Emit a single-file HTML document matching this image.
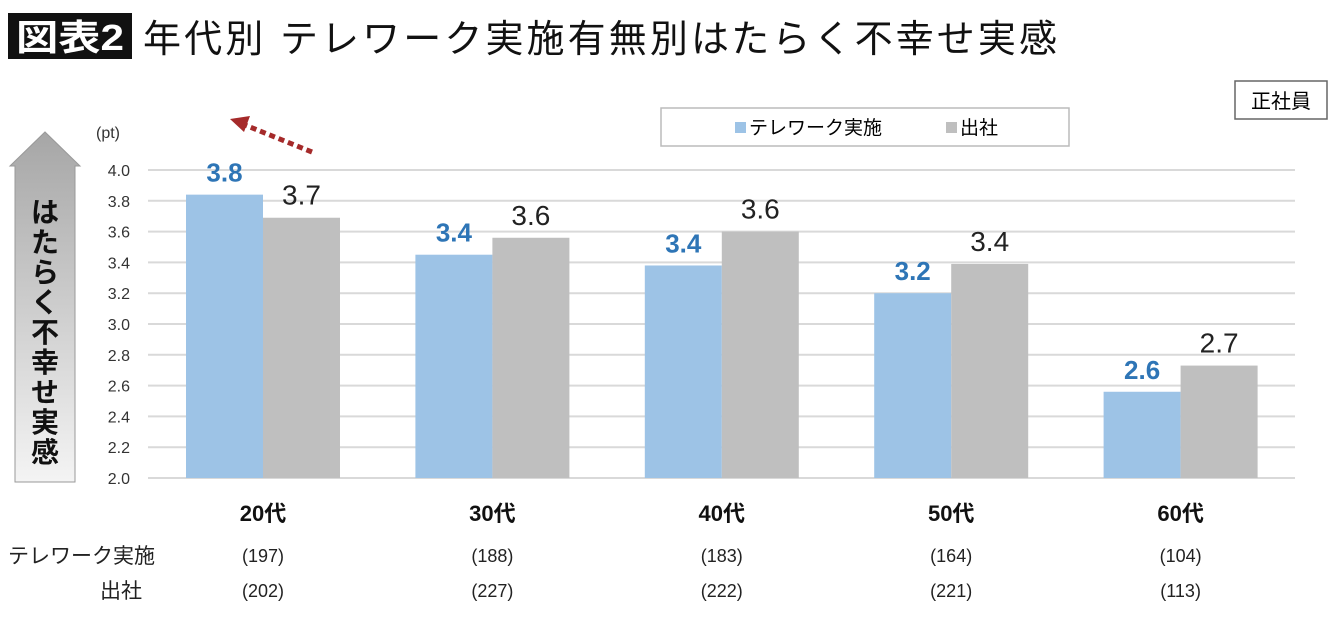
<!DOCTYPE html>
<html><head><meta charset="utf-8"><style>
body{margin:0;width:1340px;height:613px;background:#fff;overflow:hidden;font-family:"Liberation Sans","Noto Sans CJK JP",sans-serif}
</style></head><body>
<svg width="1340" height="613" xmlns="http://www.w3.org/2000/svg" font-family="Liberation Sans, Noto Sans CJK JP, sans-serif">
<defs><linearGradient id="ag" x1="0" y1="0" x2="0" y2="1"><stop offset="0" stop-color="#a6a6a6"/><stop offset="1" stop-color="#f4f4f4"/></linearGradient></defs>
<rect x="8" y="13" width="124" height="46" fill="#111"/>
<text x="70" y="50" font-size="36" font-weight="bold" fill="#fff" text-anchor="middle" textLength="108" lengthAdjust="spacingAndGlyphs">図表2</text>
<text x="143" y="52" font-size="38" fill="#111" textLength="914" lengthAdjust="spacing">年代別 テレワーク実施有無別はたらく不幸せ実感</text>
<rect x="1235" y="81" width="92" height="38" fill="#fff" stroke="#666" stroke-width="1.5"/>
<text x="1281" y="108" font-size="20" text-anchor="middle">正社員</text>
<g>
<rect x="661" y="108" width="408" height="38" fill="#fff" stroke="#bbb" stroke-width="1.5"/>
<rect x="735" y="122" width="11" height="11" fill="#9dc3e6"/>
<text x="749" y="134" font-size="19">テレワーク実施</text>
<rect x="946" y="122" width="11" height="11" fill="#bfbfbf"/>
<text x="960" y="134" font-size="19">出社</text>
</g>
<g>
<path d="M10 166 L45 132 L80 166 L75 166 L75 482 L15 482 L15 166 Z" fill="url(#ag)" stroke="#999" stroke-width="1"/>
<text font-size="28" font-weight="bold" fill="#111" text-anchor="middle">
<tspan x="45" y="222">は</tspan><tspan x="45" y="252">た</tspan><tspan x="45" y="282">ら</tspan><tspan x="45" y="312">く</tspan><tspan x="45" y="342">不</tspan><tspan x="45" y="372">幸</tspan><tspan x="45" y="402">せ</tspan><tspan x="45" y="432">実</tspan><tspan x="45" y="462">感</tspan></text>
</g>
<text x="96" y="138" font-size="16" fill="#333">(pt)</text>
<g>
<line x1="312" y1="152" x2="245" y2="125" stroke="#a52a2a" stroke-width="5" stroke-dasharray="6,4"/>
<path d="M230 119 L250 116 L244 132 Z" fill="#a52a2a"/>
</g>
<g id="chart"></g>
</svg>
<script>
const categories=["20代","30代","40代","50代","60代"];
const teleworkValues=[3.84,3.45,3.38,3.20,2.56];
const officeValues=[3.69,3.56,3.60,3.39,2.73];
const teleworkLabels=["3.8","3.4","3.4","3.2","2.6"];
const officeLabels=["3.7","3.6","3.6","3.4","2.7"];
const teleworkCounts=["(197)","(188)","(183)","(164)","(104)"];
const officeCounts=["(202)","(227)","(222)","(221)","(113)"];
const yTicks=[2.0,2.2,2.4,2.6,2.8,3.0,3.2,3.4,3.6,3.8,4.0];
const NS="http://www.w3.org/2000/svg";
const g=document.getElementById('chart');
const x0=148,x1=1295,yMin=2,yMax=4,py0=478,py1=170;
const y=v=>py0-(v-yMin)/(yMax-yMin)*(py0-py1);
const gw=(x1-x0)/categories.length;
const xg=i=>x0+i*gw;
function el(t,a,txt){const e=document.createElementNS(NS,t);for(const k in a)e.setAttribute(k,a[k]);if(txt!=null)e.textContent=txt;g.appendChild(e);return e;}
yTicks.forEach(v=>{
 const l=el('line',{x1:x0,x2:x1,y1:y(v),y2:y(v),stroke:'#d9d9d9','stroke-width':2});
 
 
 const t=el('text',{x:130,y:y(v)+6,'font-size':16,'text-anchor':'end',fill:'#333'},v.toFixed(1));
 
 
});
const bw=77;
categories.forEach((c,i)=>{
 const bx=xg(i)+38;
 const b1=el('rect',{x:bx,y:y(teleworkValues[i]),width:bw,height:py0-y(teleworkValues[i]),fill:'#9dc3e6'});
 
 
 const b2=el('rect',{x:bx+bw,y:y(officeValues[i]),width:bw,height:py0-y(officeValues[i]),fill:'#bfbfbf'});
 
 
 const l1=el('text',{x:bx+bw/2,y:y(teleworkValues[i])-13,'font-size':26,'font-weight':'bold',fill:'#2e75b6','text-anchor':'middle'},teleworkLabels[i]);
 
 
 const l2=el('text',{x:bx+bw*1.5,y:y(officeValues[i])-13,'font-size':28,fill:'#222','text-anchor':'middle'},officeLabels[i]);
 
 
 const cx=bx+bw;
 const cl=el('text',{x:cx,y:521,'font-size':22,'font-weight':'bold',fill:'#111','text-anchor':'middle'},c);
 
 
 const n1=el('text',{x:cx,y:562,'font-size':18,fill:'#222','text-anchor':'middle'},teleworkCounts[i]);
 
 
 const n2=el('text',{x:cx,y:597,'font-size':18,fill:'#222','text-anchor':'middle'},officeCounts[i]);
 
 
});
const r1=el('text',{x:8,y:563,'font-size':21,fill:'#222'},'テレワーク実施');


const r2=el('text',{x:100,y:598,'font-size':21,fill:'#222'},'出社');


</script>
</body></html>
